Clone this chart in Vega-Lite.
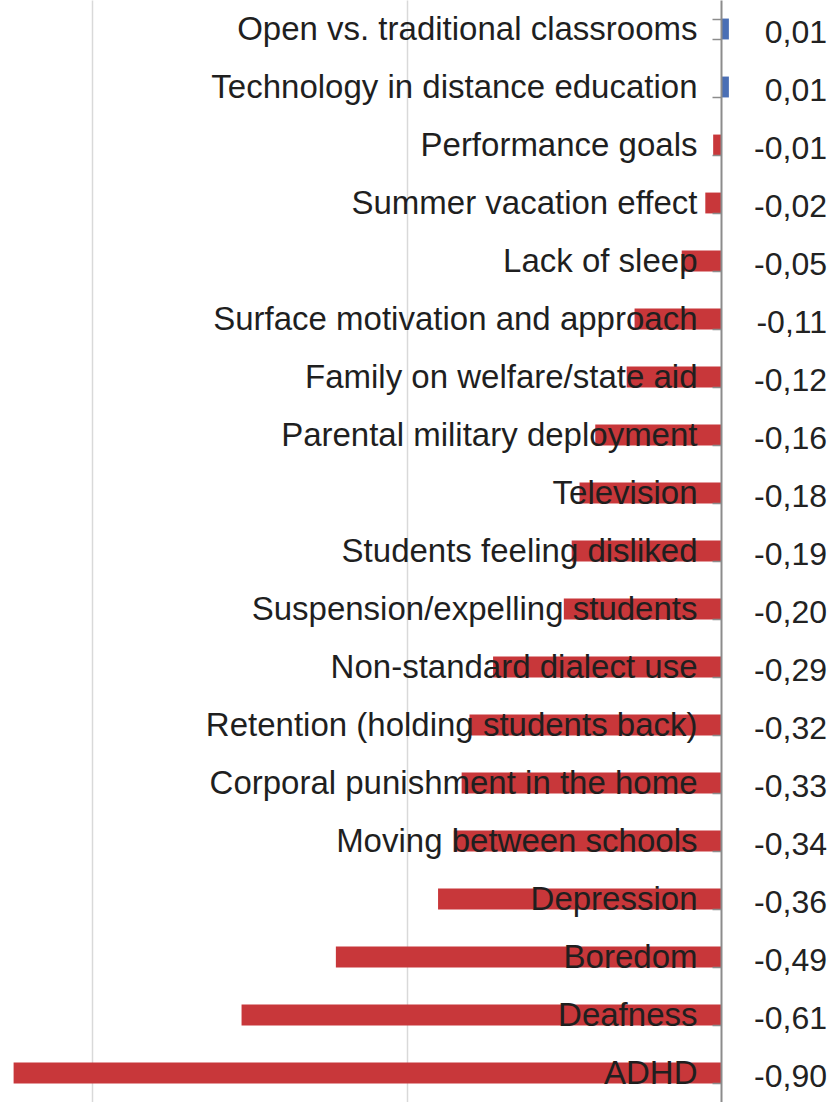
{
  "$schema": "https://vega.github.io/schema/vega-lite/v6.json",
  "width": 835,
  "height": 1102,
  "autosize": {"type": "none"},
  "padding": 0,
  "background": "white",
  "config": {
    "view": {"stroke": null},
    "locale": {"number": {"decimal": ",", "thousands": ".", "grouping": [3], "currency": ["", " €"], "minus": "-"}}
  },
  "data": {
    "values": [
      {"factor": "Open vs. traditional classrooms", "value": 0.01},
      {"factor": "Technology in distance education", "value": 0.01},
      {"factor": "Performance goals", "value": -0.01},
      {"factor": "Summer vacation effect", "value": -0.02},
      {"factor": "Lack of sleep", "value": -0.05},
      {"factor": "Surface motivation and approach", "value": -0.11},
      {"factor": "Family on welfare/state aid", "value": -0.12},
      {"factor": "Parental military deployment", "value": -0.16},
      {"factor": "Television", "value": -0.18},
      {"factor": "Students feeling disliked", "value": -0.19},
      {"factor": "Suspension/expelling students", "value": -0.20},
      {"factor": "Non-standard dialect use", "value": -0.29},
      {"factor": "Retention (holding students back)", "value": -0.32},
      {"factor": "Corporal punishment in the home", "value": -0.33},
      {"factor": "Moving between schools", "value": -0.34},
      {"factor": "Depression", "value": -0.36},
      {"factor": "Boredom", "value": -0.49},
      {"factor": "Deafness", "value": -0.61},
      {"factor": "ADHD", "value": -0.90}
    ]
  },
  "encoding": {
    "y": {
      "field": "factor",
      "type": "nominal",
      "sort": null,
      "scale": {"paddingInner": 0.64, "paddingOuter": 0.32},
      "axis": {
        "orient": "left",
        "offset": -721,
        "title": null,
        "tickBand": "extent",
        "tickSize": 9,
        "tickColor": "#8c8c8c",
        "tickWidth": 1.5,
        "domainColor": "#8c8c8c",
        "domainWidth": 2,
        "labelFont": "Liberation Sans, Arial, sans-serif",
        "labelFontSize": 33,
        "labelColor": "#1f1f1f",
        "labelPadding": 15,
        "labelLimit": 0,
        "zindex": 1
      }
    }
  },
  "layer": [
    {
      "mark": {"type": "bar"},
      "encoding": {
        "x": {
          "field": "value",
          "type": "quantitative",
          "scale": {"domain": [-0.9173, 0.145], "nice": false, "zero": false},
          "axis": {
            "values": [-0.8, -0.4],
            "grid": true,
            "gridColor": "#d9d9d9",
            "gridWidth": 1.5,
            "domain": false,
            "ticks": false,
            "labels": false,
            "title": null
          }
        },
        "color": {
          "condition": {"test": "datum.value > 0", "value": "#4a6fb5"},
          "value": "#c8373a"
        }
      }
    },
    {
      "mark": {
        "type": "text",
        "align": "right",
        "baseline": "middle",
        "dx": 106,
        "dy": 4,
        "fontSize": 32,
        "font": "Liberation Sans, Arial, sans-serif",
        "color": "#222222"
      },
      "encoding": {
        "x": {"datum": 0},
        "text": {"field": "value", "type": "quantitative", "format": ".2f"}
      }
    }
  ]
}
